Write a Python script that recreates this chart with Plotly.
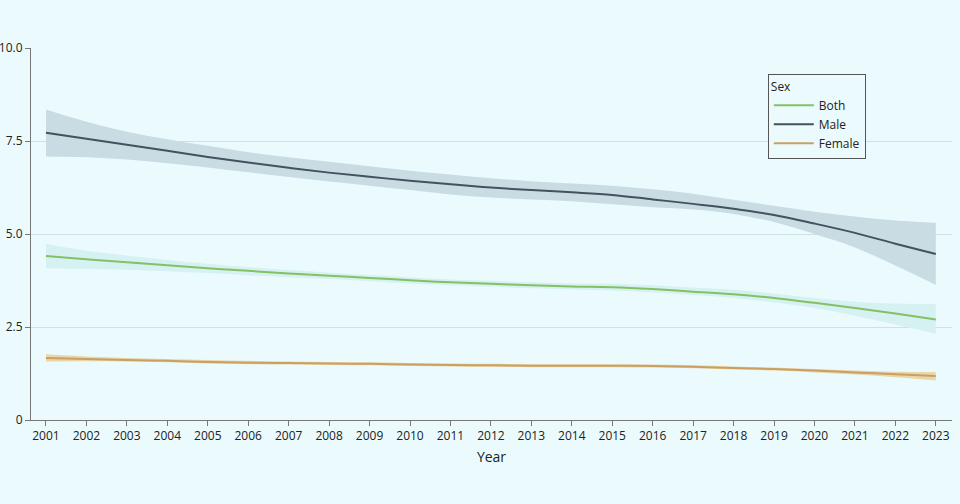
import plotly.graph_objects as go

# 年份
years = list(range(2001, 2024))

# Both
both = [4.41, 4.32, 4.24, 4.16, 4.08, 4.01, 3.94, 3.88, 3.82, 3.76, 3.70, 3.66,
        3.62, 3.59, 3.57, 3.52, 3.45, 3.38, 3.28, 3.15, 3.01, 2.86, 2.70]
both_hi = [4.73, 4.55, 4.42, 4.30, 4.20, 4.11, 4.03, 3.96, 3.90, 3.84, 3.78, 3.74,
           3.70, 3.67, 3.66, 3.62, 3.56, 3.50, 3.40, 3.28, 3.18, 3.13, 3.12]
both_lo = [4.08, 4.06, 4.04, 4.00, 3.95, 3.89, 3.84, 3.79, 3.73, 3.67, 3.62, 3.58,
           3.54, 3.51, 3.48, 3.43, 3.36, 3.28, 3.16, 3.01, 2.80, 2.57, 2.32]

# Male
male = [7.72, 7.56, 7.40, 7.24, 7.07, 6.92, 6.78, 6.65, 6.54, 6.43, 6.34, 6.25,
        6.18, 6.12, 6.05, 5.93, 5.81, 5.68, 5.51, 5.28, 5.03, 4.74, 4.46]
male_hi = [8.35, 8.02, 7.75, 7.55, 7.37, 7.20, 7.06, 6.94, 6.82, 6.70, 6.60, 6.50,
           6.42, 6.36, 6.30, 6.20, 6.08, 5.92, 5.76, 5.60, 5.47, 5.36, 5.30]
male_lo = [7.08, 7.06, 7.00, 6.90, 6.79, 6.66, 6.53, 6.41, 6.30, 6.18, 6.06, 5.98,
           5.93, 5.88, 5.80, 5.72, 5.66, 5.54, 5.32, 5.00, 4.64, 4.15, 3.63]

# Female
female = [1.67, 1.64, 1.61, 1.59, 1.56, 1.54, 1.53, 1.52, 1.51, 1.49, 1.48, 1.47,
          1.46, 1.46, 1.46, 1.45, 1.43, 1.40, 1.37, 1.33, 1.28, 1.23, 1.18]
female_hi = [1.77, 1.71, 1.67, 1.64, 1.61, 1.59, 1.57, 1.56, 1.55, 1.53, 1.52, 1.51,
             1.50, 1.50, 1.50, 1.49, 1.47, 1.44, 1.41, 1.37, 1.33, 1.30, 1.29]
female_lo = [1.57, 1.58, 1.57, 1.55, 1.52, 1.50, 1.49, 1.48, 1.47, 1.45, 1.44, 1.43,
             1.42, 1.42, 1.42, 1.41, 1.39, 1.36, 1.33, 1.28, 1.22, 1.15, 1.06]

y_ticks = [0, 2.5, 5.0, 7.5, 10.0]
y_tick_text = ["0", "2.5", "5.0", "7.5", "10.0"]

series = [
    ("Both", both, both_lo, both_hi, "#84c064", "#d6f1f2"),
    ("Male", male, male_lo, male_hi, "#44525e", "#c9dce4"),
    ("Female", female, female_lo, female_hi, "#c9a062", "#e8d6ad"),
]

fig = go.Figure()

# 置信区间带
for name, mid, lo, hi, lc, fc in [series[1], series[0], series[2]]:
    fig.add_trace(go.Scatter(x=years, y=hi, mode="lines", line=dict(width=0, shape="spline"),
                             showlegend=False, hoverinfo="skip"))
    fig.add_trace(go.Scatter(x=years, y=lo, mode="lines", line=dict(width=0, shape="spline"),
                             fill="tonexty", fillcolor=fc, showlegend=False, hoverinfo="skip"))

# 中心线
for name, mid, lo, hi, lc, fc in series:
    fig.add_trace(go.Scatter(x=years, y=mid, mode="lines", name=name,
                             line=dict(color=lc, width=2, shape="spline")))

fig.update_layout(
    width=960, height=504,
    margin=dict(l=31, r=8, t=48, b=84),
    paper_bgcolor="#ebfbfd",
    plot_bgcolor="#ebfbfd",
    font=dict(family="Open Sans", size=12, color="#222222"),
    legend=dict(
        title=dict(text="Sex", font=dict(size=12)),
        x=0.80, y=0.93, xanchor="left", yanchor="top",
        bgcolor="#ebfbfd", bordercolor="#555555", borderwidth=1,
        font=dict(size=12), tracegroupgap=0, itemwidth=40, traceorder="normal",
    ),
    xaxis=dict(
        title=dict(text="Year", standoff=8),
        range=[2000.63, 2023.4], tickvals=years, ticks="outside", ticklen=5,
        tickcolor="#777777", showline=True, linecolor="#777777", showgrid=False,
        zeroline=False, automargin=False,
    ),
    yaxis=dict(
        range=[0, 10], tickvals=y_ticks, ticktext=y_tick_text, ticks="outside", ticklen=5,
        tickcolor="#777777", showline=True, linecolor="#777777",
        gridcolor="#cfe0e6", gridwidth=1, zeroline=False, automargin=False,
    ),
)

fig.write_html("out.html", config={"displayModeBar": False},
               post_script="document.body.style.margin='0px';")
